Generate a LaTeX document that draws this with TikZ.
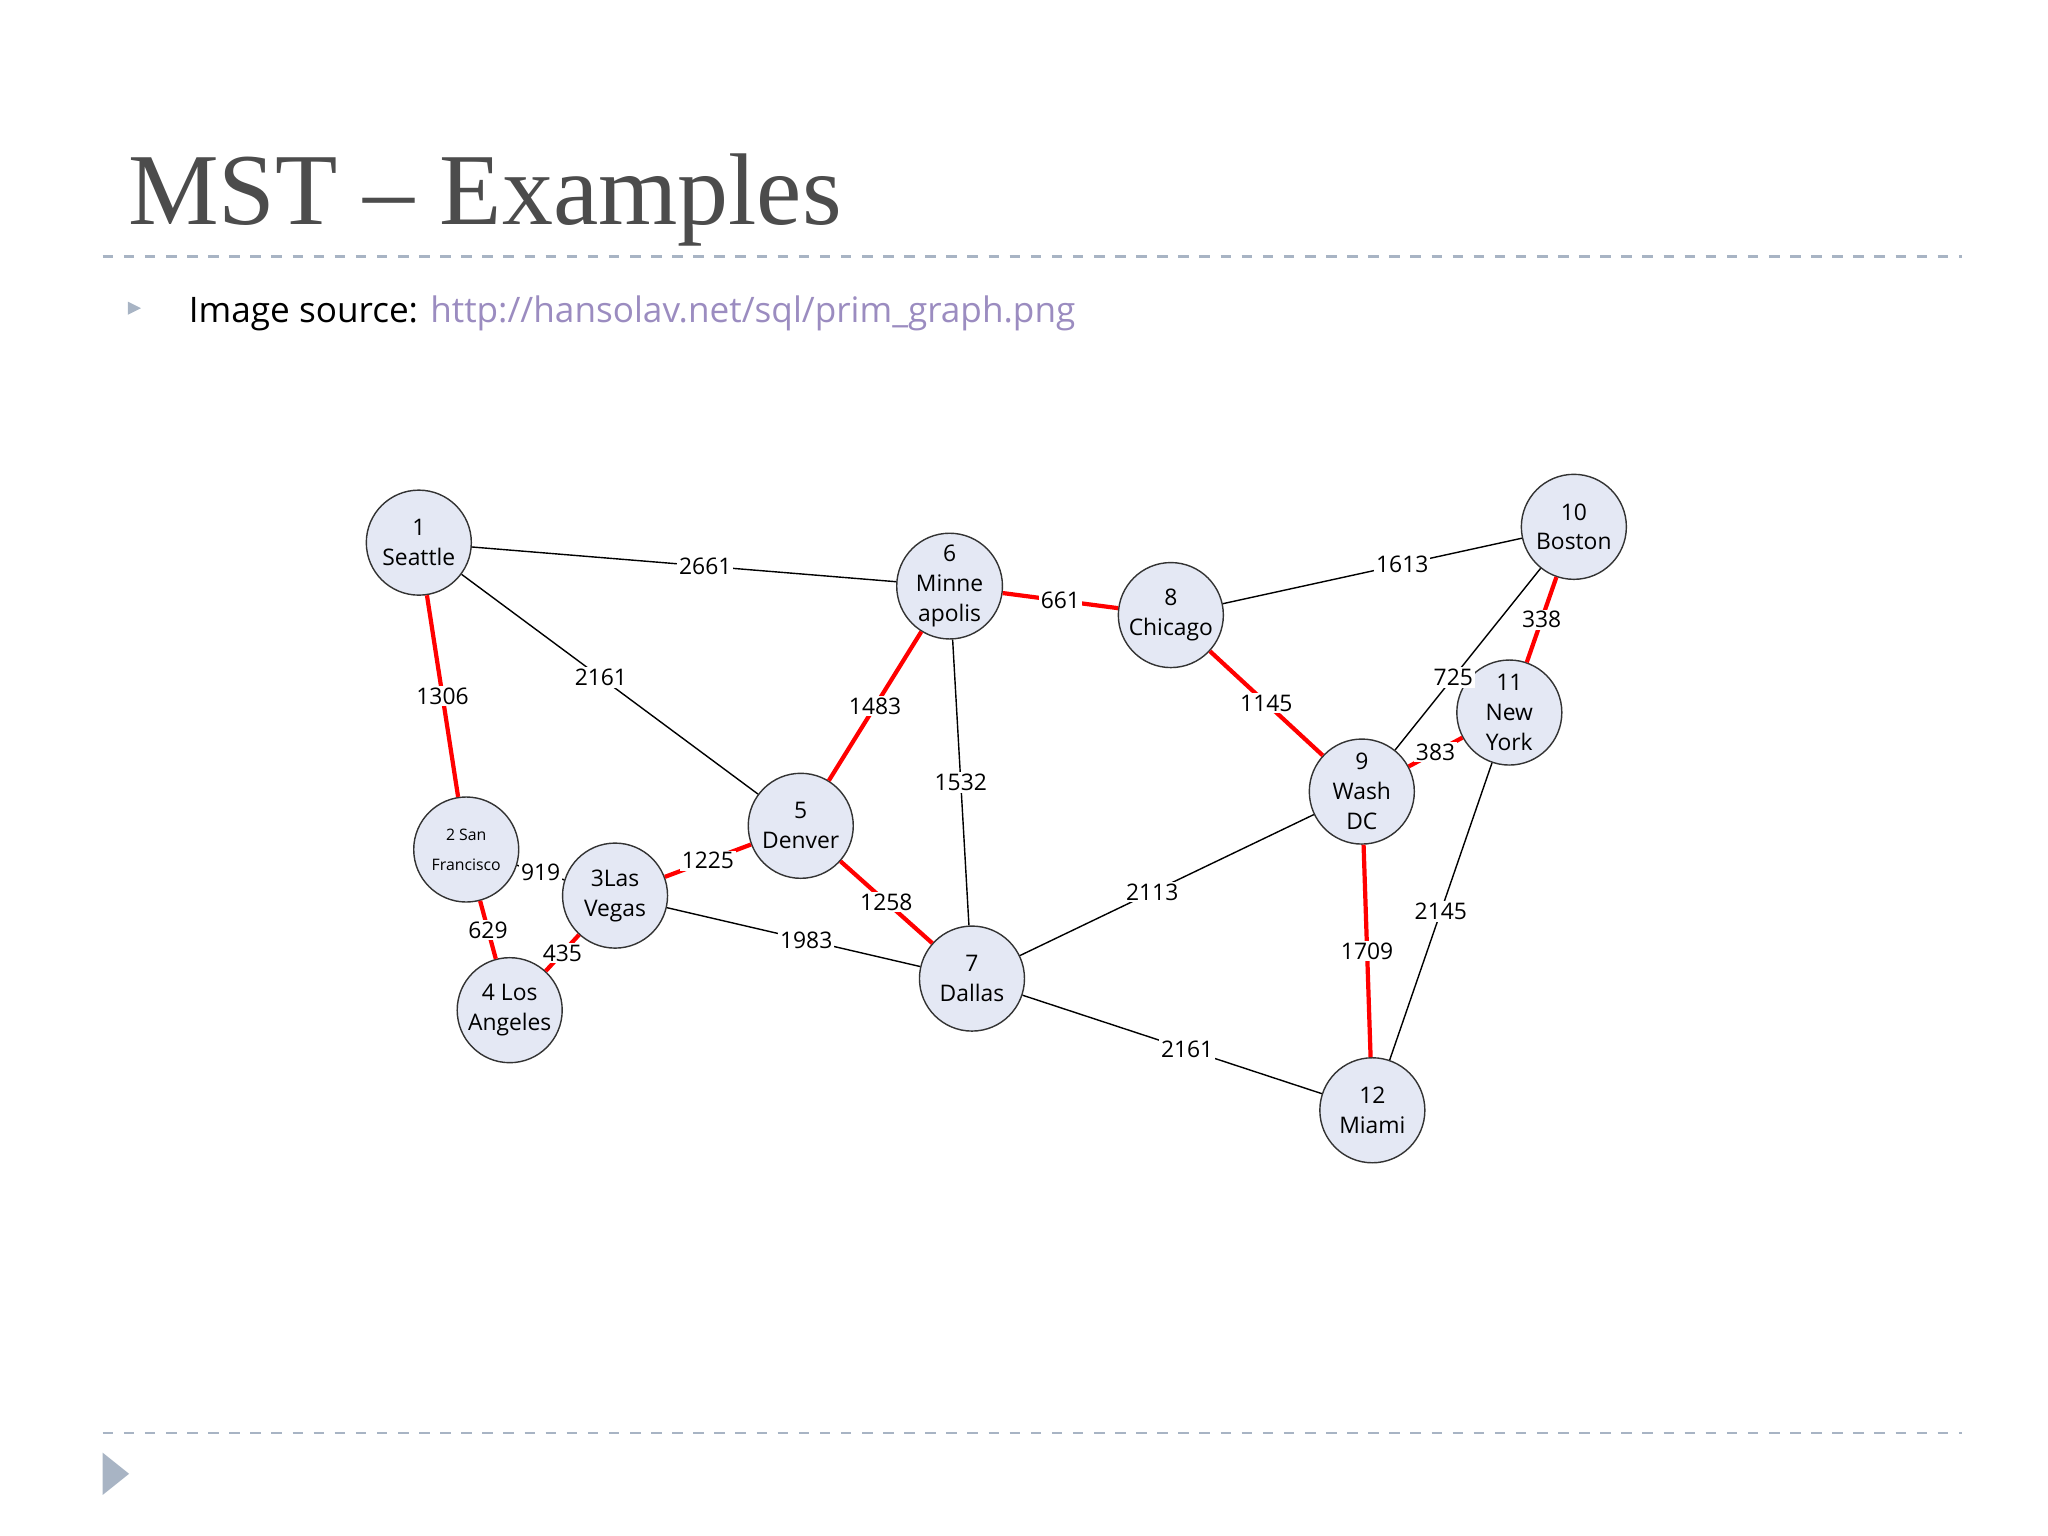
\documentclass[tikz,border=0pt]{standalone}
\usepackage{fontspec}
\setmainfont{Open Sans}
\newfontfamily\titlefont{Liberation Serif}
\usetikzlibrary{positioning}
\definecolor{cityfill}{HTML}{E4E8F4}
\definecolor{rulegray}{HTML}{A8B4C4}
\definecolor{linkcol}{HTML}{9B8CC0}
\tikzset{
  city/.style={circle,draw=black!80,fill=cityfill,minimum size=1.05cm,inner sep=0pt,align=center,font=\fontsize{6.5}{8.5}\selectfont},
  road/.style={black,thin},
  mst/.style={red,line width=1.2pt},
  dist/.style={fill=white,text=black,inner sep=0.5pt,font=\fontsize{6.5}{8}\selectfont}
}
\begin{document}
\begin{tikzpicture}[x=0.01317cm,y=-0.01317cm]
\useasboundingbox (0,0) rectangle (1555,1166);
%\draw[step=50,gray,very thin] (0,0) grid (1555,1166); %background grid
% slide frame
\node[anchor=west,text=black!70,font=\titlefont\fontsize{29}{35}\selectfont] (title) at (88,152) {MST – Examples};
\draw[rulegray,dashed,thick] (78,195) -- (1490,195);
\draw[rulegray,dashed,thick] (78,1088) -- (1490,1088);
\fill[rulegray] (97,229) -- (107,234) -- (97,239) -- cycle;
\node[anchor=west,font=\fontsize{10}{12}\selectfont] (src) at (134,238) {Image source: \textcolor{linkcol}{http://hansolav.net/sql/prim\_graph.png}};
\fill[rulegray] (78,1103) -- (98,1119) -- (78,1135) -- cycle;

% cities
\node[city] (c1)  at (318,412)  {1\\Seattle};
\node[city] (c2)  at (354,645)  {\fontsize{4.5}{7}\selectfont 2 San\\\fontsize{4.5}{7}\selectfont Francisco};
\node[city] (c3)  at (467,680)  {3Las\\Vegas};
\node[city] (c4)  at (387,767)  {4 Los\\Angeles};
\node[city] (c5)  at (608,627)  {5\\Denver};
\node[city] (c6)  at (721,445)  {6\\Minne\\apolis};
\node[city] (c7)  at (738,743)  {7\\Dallas};
\node[city] (c8)  at (889,467)  {8\\Chicago};
\node[city] (c9)  at (1034,601) {9\\Wash\\DC};
\node[city] (c10) at (1195,400) {10\\Boston};
\node[city] (c11) at (1146,541) {11\\New\\York};
\node[city] (c12) at (1042,843) {12\\Miami};

% roads
\draw[road] (c1) -- node[dist,pos=0.55]{2661} (c6);
\draw[road] (c1) -- node[dist,pos=0.47]{2161} (c5);
\draw[mst]  (c1) -- node[dist]{1306} (c2);
\draw[mst]  (c6) -- node[dist]{661} (c8);
\draw[mst]  (c6) -- node[dist]{1483} (c5);
\draw[road] (c6) -- node[dist]{1532} (c7);
\draw[road] (c8) -- node[dist,pos=0.6]{1613} (c10);
\draw[mst]  (c8) -- node[dist]{1145} (c9);
\draw[mst]  (c10) -- node[dist]{338} (c11);
\draw[road] (c10) -- node[dist,pos=0.6]{725} (c9);
\draw[mst]  (c9) -- node[dist]{383} (c11);
\draw[road] (c11) -- node[dist]{2145} (c12);
\draw[road] (c9) -- node[dist,pos=0.55]{2113} (c7);
\draw[mst]  (c9) -- node[dist]{1709} (c12);
\draw[road] (c7) -- node[dist,pos=0.55]{2161} (c12);
\draw[mst]  (c5) -- node[dist]{1225} (c3);
\draw[mst]  (c5) -- node[dist]{1258} (c7);
\draw[road] (c3) -- node[dist,pos=0.55]{1983} (c7);
\draw[road] (c2) -- node[dist]{919} (c3);
\draw[mst]  (c2) -- node[dist]{629} (c4);
\draw[mst]  (c3) -- node[dist]{435} (c4);
\end{tikzpicture}
\end{document}
